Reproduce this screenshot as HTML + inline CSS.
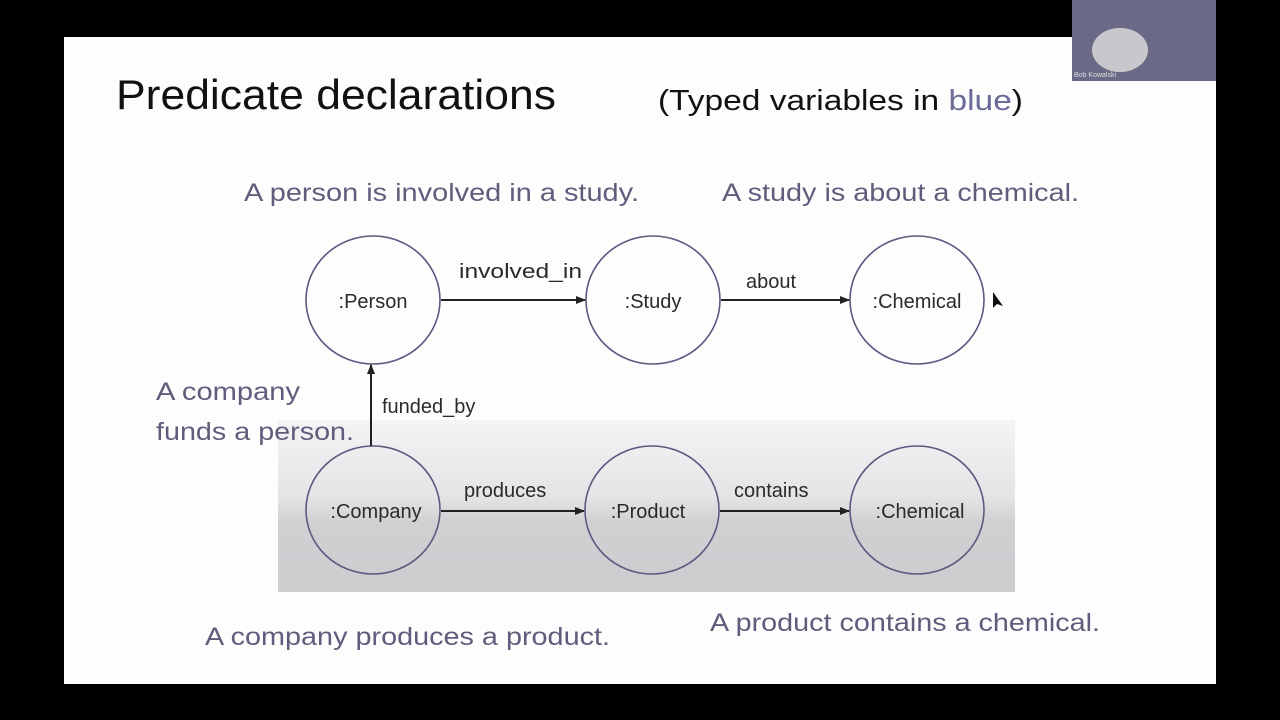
<!DOCTYPE html>
<html><head><meta charset="utf-8"><style>
html,body{margin:0;padding:0;background:#000;width:1280px;height:720px;overflow:hidden}
svg{display:block}
</style></head><body>
<svg width="1280" height="720" viewBox="0 0 1280 720" xmlns="http://www.w3.org/2000/svg">
<defs>
<linearGradient id="g" x1="0" y1="0" x2="0" y2="1">
<stop offset="0" stop-color="#f4f4f6"/>
<stop offset="0.45" stop-color="#e4e4e6"/>
<stop offset="0.6" stop-color="#d0d0d3"/>
<stop offset="1" stop-color="#cdcdd0"/>
</linearGradient>
<marker id="a" markerWidth="10" markerHeight="8" refX="9" refY="4" orient="auto" markerUnits="userSpaceOnUse">
<path d="M0,0 L10,4 L0,8 z" fill="#222"/>
</marker>
</defs>
<rect x="0" y="0" width="1280" height="720" fill="#000"/>
<rect x="64" y="37" width="1152" height="647" fill="#fdfdfd"/>
<rect x="1072" y="0" width="144" height="81" fill="#6a6a86"/>
<ellipse cx="1120" cy="50" rx="28" ry="22" fill="#c8c8cc"/>
<text x="1074" y="77" font-family="Liberation Sans, sans-serif" font-size="7" fill="#ddd">Bob Kowalski</text>
<rect x="278" y="420" width="737" height="172" fill="url(#g)"/>
<g font-family="Liberation Sans, sans-serif">
<text x="116" y="109" font-size="42" fill="#111" textLength="440" lengthAdjust="spacingAndGlyphs">Predicate declarations</text>
<text x="658" y="110" font-size="29" fill="#111" textLength="365" lengthAdjust="spacingAndGlyphs">(Typed variables in <tspan fill="#6b6b9a">blue</tspan>)</text>
<g fill="#5e5e7c" font-size="25">
<text x="244" y="201" textLength="395" lengthAdjust="spacingAndGlyphs">A person is involved in a study.</text>
<text x="722" y="201" textLength="357" lengthAdjust="spacingAndGlyphs">A study is about a chemical.</text>
<text x="156" y="400" textLength="144" lengthAdjust="spacingAndGlyphs">A company</text>
<text x="156" y="440" textLength="198" lengthAdjust="spacingAndGlyphs">funds a person.</text>
<text x="205" y="645" textLength="405" lengthAdjust="spacingAndGlyphs">A company produces a product.</text>
<text x="710" y="631" textLength="390" lengthAdjust="spacingAndGlyphs">A product contains a chemical.</text>
</g>
</g>
<g fill="none" stroke="#5a5a80" stroke-width="1.6">
<ellipse cx="373" cy="300" rx="67" ry="64"/>
<ellipse cx="653" cy="300" rx="67" ry="64"/>
<ellipse cx="917" cy="300" rx="67" ry="64"/>
<ellipse cx="373" cy="510" rx="67" ry="64"/>
<ellipse cx="652" cy="510" rx="67" ry="64"/>
<ellipse cx="917" cy="510" rx="67" ry="64"/>
</g>
<g stroke="#222" stroke-width="2" marker-end="url(#a)">
<line x1="441" y1="300" x2="585" y2="300"/>
<line x1="721" y1="300" x2="849" y2="300"/>
<line x1="441" y1="511" x2="584" y2="511"/>
<line x1="720" y1="511" x2="849" y2="511"/>
<line x1="371" y1="446" x2="371" y2="365"/>
</g>
<g font-family="Liberation Sans, sans-serif" font-size="20" fill="#2a2a2a">
<text x="373" y="308" text-anchor="middle">:Person</text>
<text x="653" y="308" text-anchor="middle">:Study</text>
<text x="917" y="308" text-anchor="middle">:Chemical</text>
<text x="376" y="518" text-anchor="middle">:Company</text>
<text x="648" y="518" text-anchor="middle">:Product</text>
<text x="920" y="518" text-anchor="middle">:Chemical</text>
<text x="459" y="278" textLength="123" lengthAdjust="spacingAndGlyphs">involved_in</text>
<text x="746" y="288">about</text>
<text x="382" y="413">funded_by</text>
<text x="464" y="497">produces</text>
<text x="734" y="497">contains</text>
</g>
<path d="M993,292 L993,308 L997,304 L1003,306 Z" fill="#111"/>
</svg>
</body></html>
